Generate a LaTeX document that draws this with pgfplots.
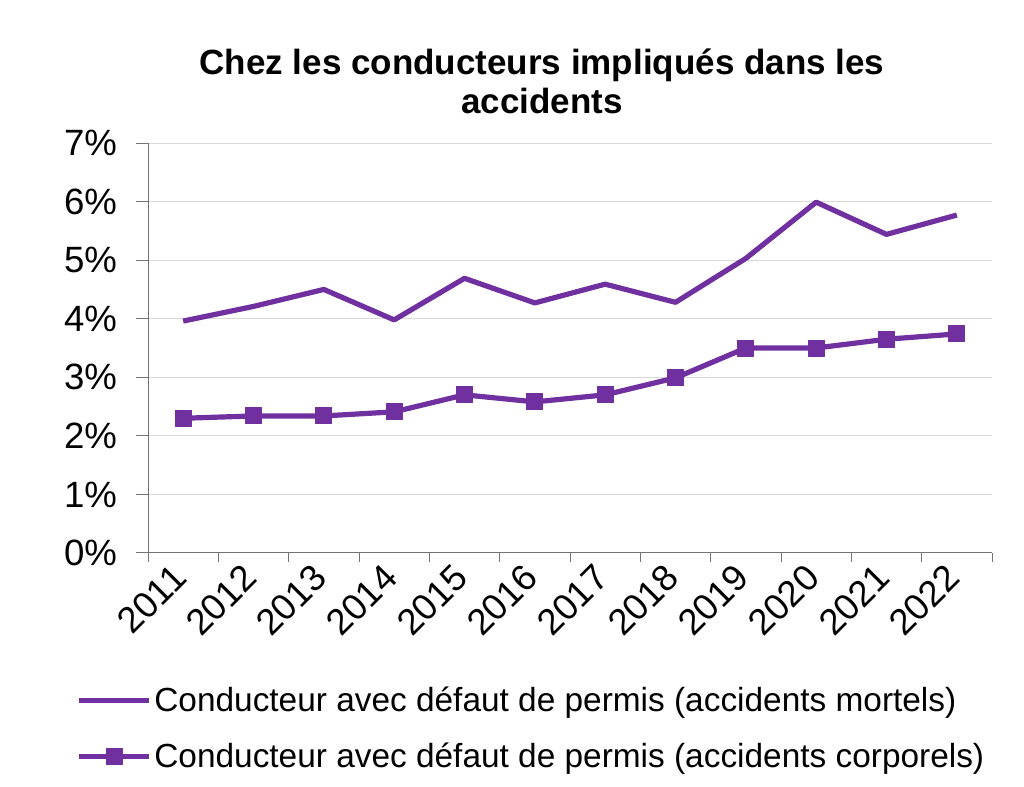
\documentclass[border=0pt]{standalone}
\usepackage{fontspec}
\setmainfont{Liberation Sans}
\usepackage{pgfplots}
\pgfplotsset{compat=1.18}
\definecolor{mypurple}{HTML}{7030A0}
\begin{document}
\begin{tikzpicture}[x=1pt,y=1pt]
\path[use as bounding box] (0,0) rectangle (512,393.5);
\node[font=\bfseries\fontsize{17.5}{19.5}\selectfont, align=center] at (271,353) {Chez les conducteurs impliqués dans les\\accidents};
\begin{axis}[
  at={(74pt,117pt)}, anchor=south west,
  scale only axis, width=422pt, height=205pt,
  xmin=0.5, xmax=12.5, ymin=0, ymax=7,
  axis lines*=left,
  axis line style={draw=black!55, line width=0.5pt, -},
  xtick={1,...,12},
  xticklabels={2011,2012,2013,2014,2015,2016,2017,2018,2019,2020,2021,2022},
  major x tick style={draw=none},
  minor xtick={0.5,1.5,...,12.5},
  minor tick length=4.5pt,
  major tick length=6pt,
  tick align=outside,
  tick style={draw=black!55, line width=0.5pt},
  ytick={0,...,7},
  yticklabels={0\%,1\%,2\%,3\%,4\%,5\%,6\%,7\%},
  ymajorgrids,
  grid style={draw=black!15, line width=0.5pt},
  tick label style={font=\fontsize{18.3}{20}\selectfont},
  yticklabel style={xshift=-6pt},
  xticklabel style={rotate=45, anchor=east, yshift=-1pt},
  legend style={draw=none, fill=none, at={(-0.092,-0.305)}, anchor=north west,
    font=\fontsize{16.7}{19}\selectfont, row sep=10.5pt,
    nodes={inner xsep=1.2pt}},
  legend cell align=left,
  legend image code/.code={\draw[mark repeat=2,mark phase=2,#1] plot coordinates {(0pt,0pt)(17.5pt,0pt)(35pt,0pt)};},
]
\addplot[color=mypurple, line width=2.6pt, line join=round] coordinates {
(1,3.96) (2,4.21) (3,4.50) (4,3.98) (5,4.69) (6,4.27) (7,4.59) (8,4.28) (9,5.03) (10,5.99) (11,5.44) (12,5.77)};
\addlegendentry{Conducteur avec défaut de permis (accidents mortels)}
\addplot[color=mypurple, line width=2.6pt, line join=round, mark=square*, mark size=4pt, mark options={line width=0.5pt}] coordinates {
(1,2.30) (2,2.34) (3,2.34) (4,2.41) (5,2.70) (6,2.58) (7,2.70) (8,2.99) (9,3.50) (10,3.50) (11,3.65) (12,3.74)};
\addlegendentry{Conducteur avec défaut de permis (accidents corporels)}
\end{axis}
\end{tikzpicture}
\end{document}
